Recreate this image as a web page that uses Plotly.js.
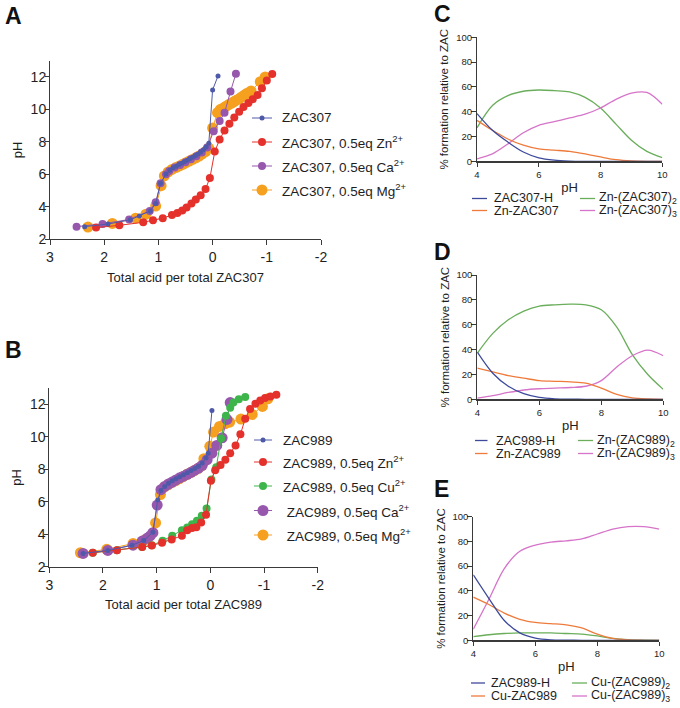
<!DOCTYPE html>
<html><head><meta charset="utf-8">
<script src="https://cdn.plot.ly/plotly-3.0.1.min.js"></script>
<style>html,body{margin:0;padding:0;background:#fff}#chart{width:680px;height:708px}</style>
</head><body><div id="chart"></div>
<script>
// ---------- Panel A: titration of ZAC307 ----------
const A_zac307_x = [2.36, 1.93, 1.52, 1.35, 1.15, 1.05, 0.96, 0.86, 0.79, 0.73, 0.67, 0.62, 0.57, 0.52, 0.47, 0.42, 0.37, 0.32, 0.27, 0.22, 0.17, 0.12, 0.07, 0.0, -0.1];
const A_zac307_pH = [2.78, 2.94, 3.2, 3.43, 3.75, 4.2, 5.45, 6.02, 6.26, 6.4, 6.5, 6.6, 6.69, 6.78, 6.87, 6.96, 7.05, 7.15, 7.26, 7.38, 7.52, 7.68, 7.92, 11.2, 12.06];
const A_zn_x = [2.15, 1.72, 1.28, 1.1, 0.92, 0.75, 0.65, 0.56, 0.48, 0.39, 0.31, 0.22, 0.13, 0.05, -0.04, -0.13, -0.22, -0.31, -0.4, -0.49, -0.57, -0.66, -0.74, -0.83, -0.91, -1.0, -1.1];
const A_zn_pH = [2.72, 2.86, 3.05, 3.17, 3.3, 3.5, 3.62, 3.77, 3.96, 4.2, 4.45, 4.72, 5.1, 5.78, 7.4, 8.15, 8.7, 9.12, 9.5, 9.86, 10.15, 10.4, 10.63, 10.88, 11.3, 11.78, 12.18];
const A_ca_x = [2.51, 2.03, 1.54, 1.16, 1.05, 0.96, 0.86, 0.8, 0.7, 0.6, 0.5, 0.4, 0.3, 0.2, 0.1, -0.02, -0.13, -0.22, -0.33, -0.43];
const A_ca_pH = [2.78, 2.95, 3.22, 3.75, 4.28, 5.45, 6.0, 6.2, 6.42, 6.58, 6.75, 6.93, 7.12, 7.35, 7.65, 8.66, 9.28, 9.79, 11.1, 12.2];
const A_mg_x = [2.3, 1.85, 1.42, 1.23, 1.05, 0.95, 0.89, 0.82, 0.75, 0.68, 0.61, 0.55, 0.49, 0.43, 0.37, 0.31, 0.25, 0.19, 0.13, 0.07, 0.0, -0.09, -0.14, -0.19, -0.24, -0.29, -0.34, -0.39, -0.44, -0.49, -0.53, -0.58, -0.63, -0.68, -0.71, -0.88, -0.97];
const A_mg_pH = [2.75, 2.98, 3.3, 3.55, 4.05, 5.3, 5.9, 6.15, 6.3, 6.42, 6.52, 6.62, 6.72, 6.82, 6.92, 7.02, 7.13, 7.26, 7.4, 7.62, 8.85, 9.8, 9.99, 10.07, 10.18, 10.28, 10.38, 10.47, 10.57, 10.65, 10.75, 10.87, 10.98, 11.05, 11.14, 11.71, 12.0];

// ---------- Panel B: titration of ZAC989 ----------
const B_zac989_x = [2.37, 1.91, 1.46, 1.24, 1.07, 0.98, 0.92, 0.85, 0.78, 0.71, 0.64, 0.57, 0.5, 0.43, 0.36, 0.29, 0.22, 0.15, 0.08, 0.04, -0.03];
const B_zac989_pH = [2.82, 3.0, 3.33, 3.62, 4.13, 6.12, 6.7, 6.95, 7.15, 7.3, 7.42, 7.55, 7.67, 7.8, 7.93, 8.05, 8.2, 8.4, 8.7, 9.0, 11.63];
const B_zn_x = [2.19, 1.74, 1.27, 1.09, 0.9, 0.72, 0.53, 0.43, 0.34, 0.26, 0.17, 0.08, -0.01, -0.09, -0.19, -0.28, -0.37, -0.47, -0.56, -0.65, -0.74, -0.84, -0.93, -1.02, -1.12, -1.23];
const B_zn_pH = [2.86, 3.02, 3.21, 3.3, 3.48, 3.68, 3.91, 4.25, 4.38, 4.44, 4.73, 5.2, 7.3, 7.94, 8.27, 8.6, 9.0, 9.48, 10.16, 11.12, 11.73, 12.04, 12.25, 12.4, 12.5, 12.6];
const B_cu_x = [2.19, 1.74, 1.27, 1.09, 0.89, 0.71, 0.53, 0.43, 0.34, 0.25, 0.16, 0.07, -0.02, -0.11, -0.2, -0.29, -0.37, -0.43, -0.53, -0.65];
const B_cu_pH = [2.86, 3.02, 3.22, 3.32, 3.6, 3.91, 4.25, 4.42, 4.62, 4.83, 5.14, 5.59, 7.37, 8.13, 9.9, 11.3, 11.8, 12.12, 12.32, 12.47];
const B_ca_x = [2.37, 1.91, 1.44, 1.27, 1.18, 1.12, 1.07, 0.99, 0.92, 0.85, 0.78, 0.71, 0.64, 0.57, 0.5, 0.43, 0.36, 0.29, 0.22, 0.15, 0.06, -0.03, -0.12, -0.22, -0.31, -0.37];
const B_ca_pH = [2.82, 3.0, 3.33, 3.58, 3.75, 3.9, 4.1, 5.8, 6.75, 6.95, 7.1, 7.22, 7.35, 7.48, 7.58, 7.7, 7.82, 7.95, 8.08, 8.25, 8.6, 9.0, 9.48, 9.95, 11.08, 12.12];
const B_mg_x = [2.42, 1.93, 1.44, 1.22, 1.02, 0.93, 0.86, 0.79, 0.72, 0.65, 0.58, 0.51, 0.44, 0.37, 0.3, 0.23, 0.17, 0.12, 0.01, -0.06, -0.17, -0.27, -0.36, -0.57, -0.78, -0.97, -1.07];
const B_mg_pH = [2.86, 3.07, 3.43, 3.65, 4.7, 6.45, 6.9, 7.05, 7.18, 7.3, 7.42, 7.55, 7.68, 7.8, 7.92, 8.05, 8.2, 8.66, 9.42, 10.3, 10.65, 10.81, 10.91, 11.1, 11.39, 11.88, 12.35];

// ---------- Panels C-E: speciation vs pH ----------
const pH_grid = [4, 4.5, 5, 5.5, 6, 6.5, 7, 7.5, 8, 8.5, 9, 9.5, 10];
const C_H   = [38.5, 25, 15.5, 7.5, 2.8, 0.9, 0.2, 0, 0, 0, 0, 0, 0];
const C_M1  = [33, 25, 18, 13, 10, 9, 8, 6, 3.5, 1.3, 0.3, 0, 0];
const C_M2  = [27, 45, 53, 56.5, 57.5, 57, 56, 51.5, 43, 30, 17, 8, 3];
const C_M3  = [2, 6, 14, 23, 29, 32, 35, 38, 43, 50, 55, 55.5, 46];
const D_H   = [38, 21, 10.5, 4.5, 1.5, 0.4, 0.1, 0, 0, 0, 0, 0, 0];
const D_M1  = [25, 22, 19, 17, 15, 14.5, 14, 13, 9, 4, 1.2, 0.3, 0];
const D_M2  = [37, 53, 64, 71, 75, 76, 76.5, 76, 72, 58, 36, 20, 8];
const D_M3  = [1, 3, 5.5, 7.5, 8.5, 9, 9.5, 10.5, 15, 26, 35, 39.5, 35];
const E_H   = [53, 34, 16, 6, 1.8, 0.4, 0.1, 0, 0, 0, 0, 0, 0];
const E_M1  = [35, 29, 22, 17, 14.5, 13.5, 12.5, 10, 5, 1.5, 0.3, 0, 0];
const E_M2  = [3, 4.5, 5.5, 6, 6, 6, 5.5, 5, 3.5, 1.5, 0.5, 0.1, 0];
const E_M3  = [9, 33, 58, 72, 77, 79.5, 80.5, 82, 86, 90, 92, 92, 90];

// Labels
const A_names = ['ZAC307', 'ZAC307, 0.5eq Zn<sup>2+</sup>', 'ZAC307, 0.5eq Ca<sup>2+</sup>', 'ZAC307, 0.5eq Mg<sup>2+</sup>'];
const B_names = ['ZAC989', 'ZAC989, 0.5eq Zn<sup>2+</sup>', 'ZAC989, 0.5eq Cu<sup>2+</sup>', ' ZAC989, 0.5eq Ca<sup>2+</sup>', ' ZAC989, 0.5eq Mg<sup>2+</sup>'];
const C_names = ['ZAC307-H', 'Zn-ZAC307', 'Zn-(ZAC307)<sub>2</sub>', 'Zn-(ZAC307)<sub>3</sub>'];
const D_names = ['ZAC989-H', 'Zn-ZAC989', 'Zn-(ZAC989)<sub>2</sub>', 'Zn-(ZAC989)<sub>3</sub>'];
const E_names = ['ZAC989-H', 'Cu-ZAC989', 'Cu-(ZAC989)<sub>2</sub>', 'Cu-(ZAC989)<sub>3</sub>'];
const A_ticks = [3, 2, 1, 0, -1, -2];
const A_tickText = ['3', '2', '1', '0', '-1', '-2'];
const pH_ticks = [2, 4, 6, 8, 10, 12];
const spec_xticks = [4, 6, 8, 10];
const spec_yticks = [0, 20, 40, 60, 80, 100];

// ---------- styling ----------
const W = 680, H = 708;
const px = v => v / W, py = v => 1 - v / H;
const FONT = 'Liberation Sans, Arial, Helvetica, sans-serif';
const TXT = '#1e1e1e';
const AX = '#3a3a3a';
const col = {blue: '#4e5aa9', red: '#e5312b', purple: '#9657ad', orange: '#f6a020', green: '#3eb54b'};
const scol = {H: '#3d4a9b', M1: '#ee7b3c', M2: '#6aae5b', M3: '#d674c9'};

function tit(x, y, ax, ay, color, size) {
  return {x: x, y: y, xaxis: ax, yaxis: ay, type: 'scatter', mode: 'lines+markers',
    line: {color: color, width: 1}, marker: {color: color, size: size}, showlegend: false, hoverinfo: 'x+y'};
}
function spec(y, ax, ay, color) {
  return {x: pH_grid, y: y, xaxis: ax, yaxis: ay, type: 'scatter', mode: 'lines',
    line: {color: color, width: 1.3, shape: 'spline', smoothing: 0.9}, showlegend: false};
}

const traces = [
  tit(A_mg_x, A_mg_pH, 'x', 'y', col.orange, 11),
  tit(A_ca_x, A_ca_pH, 'x', 'y', col.purple, 8),
  tit(A_zn_x, A_zn_pH, 'x', 'y', col.red, 8),
  tit(A_zac307_x, A_zac307_pH, 'x', 'y', col.blue, 5),
  tit(B_mg_x, B_mg_pH, 'x2', 'y2', col.orange, 11),
  tit(B_ca_x, B_ca_pH, 'x2', 'y2', col.purple, 11),
  tit(B_cu_x, B_cu_pH, 'x2', 'y2', col.green, 8),
  tit(B_zn_x, B_zn_pH, 'x2', 'y2', col.red, 8),
  tit(B_zac989_x, B_zac989_pH, 'x2', 'y2', col.blue, 5),
  spec(C_M2, 'x3', 'y3', scol.M2), spec(C_M3, 'x3', 'y3', scol.M3), spec(C_M1, 'x3', 'y3', scol.M1), spec(C_H, 'x3', 'y3', scol.H),
  spec(D_M2, 'x4', 'y4', scol.M2), spec(D_M3, 'x4', 'y4', scol.M3), spec(D_M1, 'x4', 'y4', scol.M1), spec(D_H, 'x4', 'y4', scol.H),
  spec(E_M2, 'x5', 'y5', scol.M2), spec(E_M3, 'x5', 'y5', scol.M3), spec(E_M1, 'x5', 'y5', scol.M1), spec(E_H, 'x5', 'y5', scol.H)
];

function axis(o) {
  return Object.assign({showline: true, linecolor: AX, linewidth: 1, ticks: 'outside', ticklen: 5, tickcolor: AX,
    tickwidth: 1, showgrid: false, zeroline: false, fixedrange: true, automargin: false,
    tickfont: {family: FONT, size: 14, color: TXT}}, o);
}
const tfont = s => ({family: FONT, size: s, color: TXT});

const layout = {
  width: W, height: H, margin: {l: 0, r: 0, t: 0, b: 0}, paper_bgcolor: '#fff', plot_bgcolor: '#fff',
  font: {family: FONT, color: TXT}, showlegend: false,
  xaxis: axis({domain: [px(50), px(321)], anchor: 'y', range: [3, -2], tickvals: A_ticks, ticktext: A_tickText,
    title: {text: 'Total acid per total ZAC307', font: tfont(13), standoff: 8}}),
  yaxis: axis({domain: [py(239.3), py(60.7)], anchor: 'x', range: [2, 13], tickvals: pH_ticks, ticklen: 4,
    ticklabelstandoff: -4, title: {text: 'pH', font: tfont(13), standoff: 5}}),
  xaxis2: axis({domain: [px(49.3), px(317.7)], anchor: 'y2', range: [3, -2], tickvals: A_ticks, ticktext: A_tickText,
    title: {text: 'Total acid per total ZAC989', font: tfont(13), standoff: 8}}),
  yaxis2: axis({domain: [py(566.7), py(388.3)], anchor: 'x2', range: [2, 13], tickvals: pH_ticks, ticklen: 4,
    ticklabelstandoff: -4, title: {text: 'pH', font: tfont(13), standoff: 5}}),
  xaxis3: axis({domain: [px(477), px(662.3)], anchor: 'y3', range: [4, 10], tickvals: spec_xticks, ticklen: 4,
    linewidth: 1.4, tickfont: tfont(9.5), title: {text: 'pH', font: tfont(13), standoff: 4}}),
  yaxis3: axis({domain: [py(161.3), py(37.3)], anchor: 'x3', range: [0, 100], tickvals: spec_yticks, ticklen: 5,
    ticklabelstandoff: -3, tickfont: tfont(9.5), title: {text: '% formation relative to ZAC', font: tfont(11.5), standoff: 5}}),
  xaxis4: axis({domain: [px(477.3), px(663.3)], anchor: 'y4', range: [4, 10], tickvals: spec_xticks, ticklen: 4,
    linewidth: 1.4, tickfont: tfont(9.5), title: {text: 'pH', font: tfont(13), standoff: 4}}),
  yaxis4: axis({domain: [py(399.3), py(275)], anchor: 'x4', range: [0, 100], tickvals: spec_yticks, ticklen: 5,
    ticklabelstandoff: -3, tickfont: tfont(9.5), title: {text: '% formation relative to ZAC', font: tfont(11.5), standoff: 4}}),
  xaxis5: axis({domain: [px(473.3), px(659.3)], anchor: 'y5', range: [4, 10], tickvals: spec_xticks, ticklen: 4,
    linewidth: 1.4, tickfont: tfont(9.5), title: {text: 'pH', font: tfont(13), standoff: 4}}),
  yaxis5: axis({domain: [py(640.3), py(516.7)], anchor: 'x5', range: [0, 100], tickvals: spec_yticks, ticklen: 5,
    ticklabelstandoff: -3, tickfont: tfont(9.5), title: {text: '% formation relative to ZAC', font: tfont(11.5), standoff: 4}}),
  shapes: [], annotations: []
};

// panel letters
[['A', 3, 16], ['B', 3, 350], ['C', 432, 14], ['D', 432, 252], ['E', 432, 489]].forEach(([t, x, y]) => {
  layout.annotations.push({xref: 'paper', yref: 'paper', x: px(x), y: py(y), xanchor: 'left', yanchor: 'middle',
    text: '<b>' + t + '</b>', showarrow: false, font: {family: FONT, size: 23, color: '#111'}});
});

// legend helpers (swatches drawn as shapes, labels as annotations)
function legLine(x0, x1, y, color, msize, text, tx, fsize) {
  layout.shapes.push({type: 'line', xref: 'paper', yref: 'paper', x0: px(x0), x1: px(x1), y0: py(y), y1: py(y),
    line: {color: color, width: msize ? 1 : 1.3}});
  if (msize) {
    const cx = (x0 + x1) / 2, r = msize / 2;
    layout.shapes.push({type: 'circle', xref: 'paper', yref: 'paper', x0: px(cx - r), x1: px(cx + r),
      y0: py(y + r), y1: py(y - r), fillcolor: color, line: {width: 0}});
  }
  layout.annotations.push({xref: 'paper', yref: 'paper', x: px(tx), y: py(y), xanchor: 'left', yanchor: 'middle',
    text: text, showarrow: false, font: tfont(fsize), borderpad: 0});
}
// legend A
const A_cols = [col.blue, col.red, col.purple, col.orange], A_ms = [5, 8, 8, 11], A_rows = [118, 142, 166, 190];
A_names.forEach((n, i) => legLine(252, 272, A_rows[i], A_cols[i], A_ms[i], n, 281, 13.5));
// legend B
const B_cols = [col.blue, col.red, col.green, col.purple, col.orange], B_ms = [5, 8, 8, 11, 11], B_rows = [440, 462, 486, 510.5, 535];
B_names.forEach((n, i) => legLine(254, 272, B_rows[i], B_cols[i], B_ms[i], n, 282, 13.5));
// legends C-E (two columns)
const sc = [scol.H, scol.M1, scol.M2, scol.M3];
function specLegend(names, r1, r2, c1, t1, c2, t2) {
  const pos = [[c1, t1, r1], [c1, t1, r2], [c2, t2, r1], [c2, t2, r2]];
  names.forEach((n, i) => legLine(pos[i][0][0], pos[i][0][1], pos[i][2], sc[i], 0, n, pos[i][1], 12.5));
}
specLegend(C_names, 198.5, 210.5, [472, 487], 493, [580, 595], 598);
specLegend(D_names, 440.5, 453.5, [475, 487.5], 495, [578, 593], 596);
specLegend(E_names, 683, 696, [471, 485], 490, [572, 587], 590);

Plotly.newPlot('chart', traces, layout, {displayModeBar: false, staticPlot: true});
</script></body></html>
